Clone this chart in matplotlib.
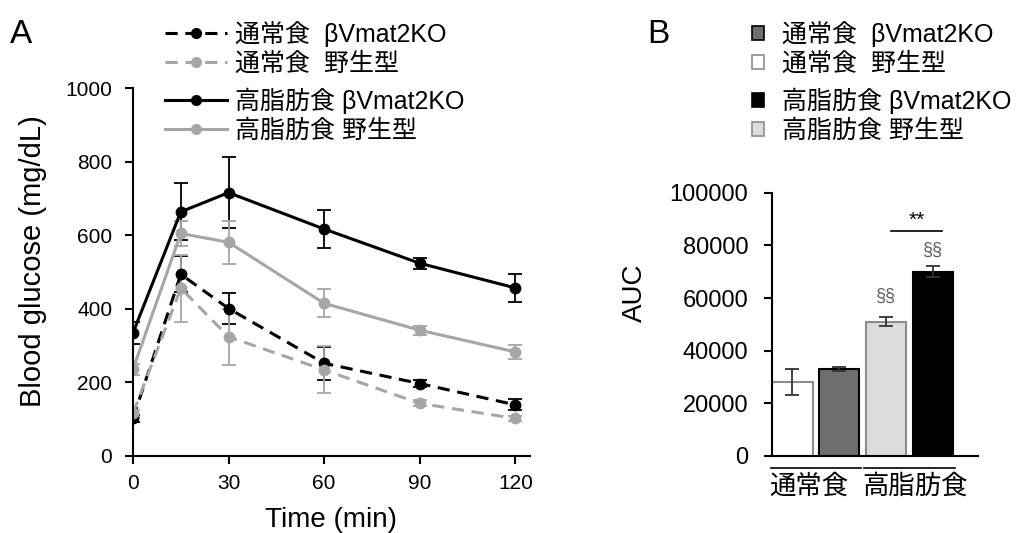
import matplotlib
matplotlib.use('Agg')
import matplotlib.pyplot as plt
from matplotlib.patches import Patch
from matplotlib.lines import Line2D

plt.rcParams['font.family'] = ['Liberation Sans', 'Noto Sans CJK JP', 'DejaVu Sans']

# Panel A: glucose tolerance (mg/dL)
times = [0, 15, 30, 60, 90, 120]
nd_ko = [102, 494, 401, 252, 197, 139]
nd_ko_err = [10, 49, 41, 45, 10, 15]
nd_wt = [116, 456, 324, 234, 143, 102]
nd_wt_err = [10, 91, 77, 64, 8, 8]
hfd_ko = [335, 664, 716, 617, 524, 457]
hfd_ko_err = [30, 78, 97, 52, 15, 37]
hfd_wt = [236, 605, 581, 415, 342, 283]
hfd_wt_err = [15, 33, 59, 38, 12, 20]

# Panel B: AUC (order: ND WT, ND KO, HFD WT, HFD KO)
auc = [28000, 33000, 51000, 70000]
auc_err = [5000, 700, 1800, 2000]
groups = ['通常食', '高脂肪食']

lbl_nd_ko = '通常食  βVmat2KO'
lbl_nd_wt = '通常食  野生型'
lbl_hfd_ko = '高脂肪食 βVmat2KO'
lbl_hfd_wt = '高脂肪食 野生型'

grey = '#a6a6a6'
dash = (4, 2.5)

fig = plt.figure(figsize=(10.17, 5.33), dpi=100)
axA = fig.add_axes([0.1308, 0.1445, 0.390, 0.690])
axB = fig.add_axes([0.759, 0.1445, 0.2026, 0.494])

series = [(nd_ko, nd_ko_err, 'black', '--'),
          (nd_wt, nd_wt_err, grey, '--'),
          (hfd_ko, hfd_ko_err, 'black', '-'),
          (hfd_wt, hfd_wt_err, grey, '-')]
for y, err, col, ls in series:
    eb = axA.errorbar(times, y, yerr=err, color=col, ls=ls, lw=2.2, marker='o',
                      ms=7.5, capsize=5, elinewidth=1.3, capthick=1.3)
    if ls == '--':
        eb.lines[0].set_dashes(dash)

axA.set_xlim(0, 124.5)
axA.set_ylim(0, 1000)
axA.set_xticks([0, 30, 60, 90, 120])
axA.set_yticks(range(0, 1001, 200))
axA.spines['top'].set_visible(False)
axA.spines['right'].set_visible(False)
axA.spines['left'].set_linewidth(1.5)
axA.spines['bottom'].set_linewidth(1.5)
axA.tick_params(direction='out', length=6, width=1.5, labelsize=15)
axA.tick_params(axis='y', pad=9)
axA.tick_params(axis='x', pad=7)
axA.set_xlabel('Time (min)', fontsize=20, labelpad=10)
axA.set_ylabel('Blood glucose (mg/dL)', fontsize=21)
axA.yaxis.set_label_coords(-0.216, 0.53)

def line_handle(color, ls):
    h = Line2D([], [], color=color, ls=ls, lw=2.2, marker='o', ms=7)
    if ls == '--':
        h.set_dashes(dash)
    return h

leg_kw = dict(loc='upper left', frameon=False, fontsize=18, borderpad=0,
              borderaxespad=0, labelspacing=0.2)
fig.legend([line_handle('black', '--'), line_handle(grey, '--')],
           [lbl_nd_ko, lbl_nd_wt], bbox_to_anchor=(0.162, 0.961),
           handlelength=2.5, handletextpad=0.3, **leg_kw)
fig.legend([line_handle('black', '-'), line_handle(grey, '-')],
           [lbl_hfd_ko, lbl_hfd_wt], bbox_to_anchor=(0.162, 0.835),
           handlelength=2.5, handletextpad=0.3, **leg_kw)

# Panel B bars
faces = ['white', '#6e6e6e', '#dcdcdc', 'black']
edges = ['#8c8c8c', 'black', '#8c8c8c', 'black']
xpos = range(len(auc))
axB.bar(xpos, auc, width=0.86, color=faces, edgecolor=edges, linewidth=1.5)
axB.errorbar(xpos, auc, yerr=auc_err, fmt='none', ecolor='#333333',
             elinewidth=1.3, capsize=5, capthick=1.3)
axB.set_xlim(-0.44, 3.97)
axB.set_ylim(0, 100000)
axB.set_yticks(range(0, 100001, 20000))
axB.set_xticks([])
axB.spines['top'].set_visible(False)
axB.spines['right'].set_visible(False)
axB.spines['left'].set_linewidth(1.5)
axB.spines['bottom'].set_linewidth(1.5)
axB.tick_params(direction='out', length=6, width=1.5, labelsize=17, pad=11)
axB.set_ylabel('AUC', fontsize=20)
axB.yaxis.set_label_coords(-0.60, 0.62)

# group lines and labels under axis
trans = axB.get_xaxis_transform()
for i, g in enumerate(groups):
    a, b = 2 * i, 2 * i + 1
    axB.plot([a - 0.47, b + 0.47], [-0.046, -0.046], color='black', lw=1.2,
             transform=trans, clip_on=False)
    axB.text(a - 0.5, -0.07, g, transform=trans, ha='left', va='top',
             fontsize=19)

# significance
axB.plot([2.1, 3.2], [85500, 85500], color='black', lw=1.2)
axB.text(2.65, 86000, '**', ha='center', va='bottom', fontsize=15)
axB.text(2, auc[2] + 9500, '§§', ha='center', va='center', fontsize=13, color='#606060')
axB.text(3, auc[3] + 8200, '§§', ha='center', va='center', fontsize=13, color='#606060')

def sq(face, edge):
    return Patch(facecolor=face, edgecolor=edge, linewidth=1.2)

sq_kw = dict(handlelength=0.5, handleheight=0.5, handletextpad=0.7, **leg_kw)
fig.legend([sq(faces[1], 'black'), sq('white', '#8c8c8c')],
           [lbl_nd_ko, lbl_nd_wt], bbox_to_anchor=(0.739, 0.961), **sq_kw)
fig.legend([sq('black', 'black'), sq(faces[2], '#8c8c8c')],
           [lbl_hfd_ko, lbl_hfd_wt], bbox_to_anchor=(0.739, 0.835), **sq_kw)

fig.text(0.010, 0.935, 'A', fontsize=24, va='center')
fig.text(0.636, 0.935, 'B', fontsize=24, va='center')

fig.savefig('out.png', dpi=100)
